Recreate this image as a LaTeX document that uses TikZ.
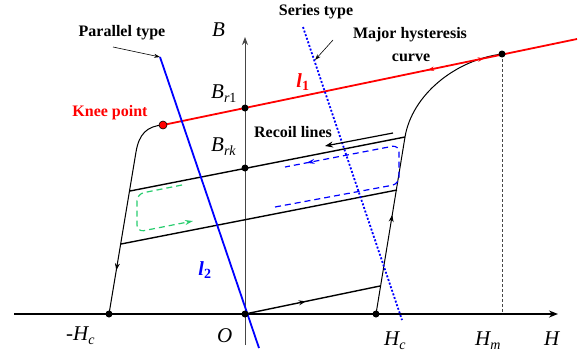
\documentclass[tikz,border=0pt]{standalone}
\usepackage{fontspec}
\setmainfont{Liberation Serif}
\usetikzlibrary{arrows.meta,decorations.markings}
\definecolor{grn}{RGB}{40,205,110}
\definecolor{axisgray}{RGB}{70,70,70}
\newcommand{\mysub}[1]{\raisebox{-0.22em}{\fontsize{14}{14}\selectfont #1}}
\begin{document}
\begin{tikzpicture}[x=1pt,y=-1pt,
  lbl/.style={font=\fontsize{16}{18}\selectfont\bfseries,inner sep=0pt},
  mth/.style={font=\fontsize{21}{22}\selectfont\itshape,inner sep=0pt,anchor=base west},
  ltxt/.style={font=\fontsize{20}{20}\selectfont\bfseries\itshape,inner sep=0pt},
  dot/.style={circle,fill=black,inner sep=0pt,minimum size=7pt},
  kneedot/.style={circle,fill=red,draw=black,line width=0.6pt,inner sep=0pt,minimum size=8pt},
  recoil/.style={line width=1.4pt},
  branch/.style={line width=1pt},
  midarrow/.style={postaction={decorate},decoration={markings,mark=at position #1 with {\arrow{Stealth[length=7pt,width=5pt]}}}},
  loop/.style={line width=1.2pt,dash pattern=on 6pt off 4pt,rounded corners=7pt},
]
\useasboundingbox (0,0) rectangle (585,354);

% coordinates
\coordinate (hl) at (14,314);
\coordinate (hr) at (558,314);
\coordinate (bb) at (245,345);
\coordinate (bt) at (245,37);
\coordinate (l1end) at (577,39);
\coordinate (rb) at (405,137);
\coordinate (lb) at (136,152);
\coordinate (r1a) at (130,191);
\coordinate (r2a) at (121,244);
\coordinate (r2b) at (397,190);
\coordinate (r3b) at (380,286);
\coordinate (hmb) at (502,314);
\coordinate (pA) at (160,57);
\coordinate (pB) at (259,348);
\coordinate (sA) at (303,27);
\coordinate (sB) at (402,320);

% axes
\draw[line width=1pt,axisgray,-{Stealth[length=8pt,width=6pt]}] (bb) -- (bt);
\draw[line width=1.8pt,-{Stealth[length=9pt,width=7pt]}] (hl) -- (hr);

% recoil lines
\draw[recoil] (r1a) -- (rb);
\draw[recoil] (r2a) -- (r2b);
\draw[recoil,midarrow=0.45] (245,314) -- (r3b);

% major hysteresis branches
\draw[branch,midarrow=0.56] (376,314) -- (rb);
\draw[branch] (rb) .. controls (412,95) and (455,60) .. (502,54);
\draw[branch] (163,125) .. controls (147,126) and (139,134) .. (lb);
\draw[branch,midarrow=0.73] (lb) -- (109,314);

% Hm dashed
\draw[axisgray,line width=0.7pt,dash pattern=on 3pt off 2pt] (502,54) -- (hmb);

% red l1 line
\draw[red,line width=1.8pt,
  postaction={decorate},
  decoration={markings,
    mark=at position 0.775 with {\arrow{Stealth[length=6pt,width=4.5pt]}},
    mark=at position 0.64 with {\arrowreversed{Stealth[length=6pt,width=4.5pt]}}}]
  (163,125) -- (l1end);

% parallel / series lines
\draw[blue,line width=1.8pt] (pA) -- (pB);
\draw[blue,line width=1.8pt,dash pattern=on 2pt off 1.8pt] (sA) -- (sB);

% loops
\draw[blue,loop,postaction={decorate},
  decoration={markings,mark=at position 0.92 with {\arrow[solid]{Stealth[length=8pt,width=5pt]}}}]
  (275,207) -- (399,184) -- (399,145) -- (285,167);
\draw[grn,loop,-{Stealth[length=8pt,width=5pt]}] (182,185) -- (137,194) -- (137,232) -- (193,221);

% recoil arrow
\draw[line width=1.2pt,-{Stealth[length=8pt,width=6pt]}] (393,133) -- (325,146);

% points
\node[dot] (O) at (245,314) {};
\node[dot] (mHc) at (109,314) {};
\node[dot] (Hc) at (376,314) {};
\node[dot] (Br1) at (245,108) {};
\node[dot] (Brk) at (245,168) {};
\node[dot] (Hm) at (502,54) {};
\node[kneedot] (knee) at (163,125) {};

% text labels
\node[lbl] (ptype) at (122,33) {Parallel type};
\draw[line width=0.6pt,-{Stealth[length=6pt,width=4pt]}] (113,47) -- (pA);
\node[lbl] (stype) at (316,12) {Series type};
\node[lbl] (major) at (410,35) {Major hysteresis};
\node[lbl] (curve) at (411,58) {curve};
\draw[line width=0.6pt,-{Stealth[length=6pt,width=4pt]}] (333,40) -- (315,60);
\node[lbl,red] (kneelbl) at (110,113) {Knee point};
\node[lbl] (reclbl) at (293,132) {Recoil lines};
\node[ltxt,red] (l1) at (303,82) {l\textsubscript{\upshape 1}};
\node[ltxt,blue] (l2) at (205,270) {l\textsubscript{\upshape 2}};

\node[mth] (Blbl) at (212,36) {B};
\node[mth] (Br1lbl) at (211,98) {B\mysub{r\upshape 1}};
\node[mth] (Brklbl) at (211,151) {B\mysub{rk}};
\node[mth] (mHclbl) at (66,340) {-H\mysub{c}};
\node[mth] (Olbl) at (217,342) {O};
\node[mth] (Hclbl) at (384,345) {H\mysub{c}};
\node[mth] (Hmlbl) at (475,345) {H\mysub{m}};
\node[mth] (Hlbl) at (544,345) {H};
\end{tikzpicture}
\end{document}
